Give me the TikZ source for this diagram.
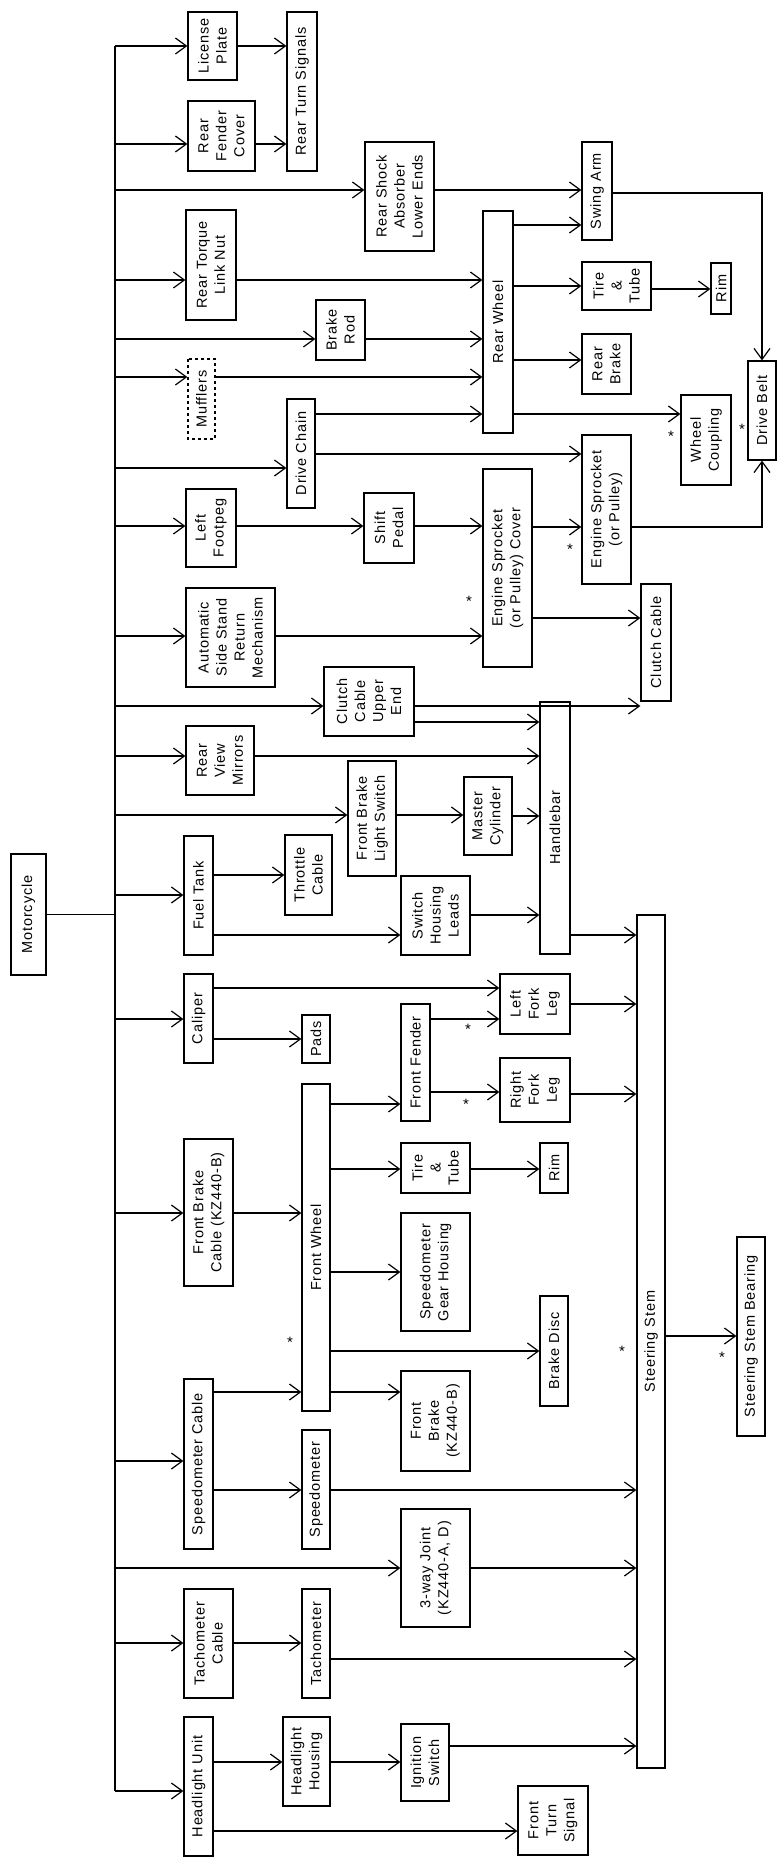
\documentclass[tikz,border=0pt]{standalone}
\usepackage{fontspec}
\setmainfont{Liberation Sans}[LetterSpace=6]
\usetikzlibrary{arrows.meta}

\begin{document}
\begin{tikzpicture}[x=1pt,y=-1pt,line width=1.2pt,
    >={Straight Barb[length=11pt,width=16pt]},
    box/.style={draw,rotate=90,inner sep=0pt,align=center,
      font=\fontsize{14.5}{18}\selectfont},
    star/.style={inner sep=0pt,font=\fontsize{15}{15}\selectfont}]
  \useasboundingbox (0,0) rectangle (776,1859);
  \coordinate (sp) at (115,0);
  \draw (115,46) coordinate (sptop) -- (115,1791) coordinate (spbot);

  % boxes, left column
  \node[box,minimum width=121pt,minimum height=35pt] (mc) at (28.5,914.5) {Motorcycle};
  \node[box,minimum width=68pt,minimum height=49pt] (lp) at (212.5,46) {License\\Plate};
  \node[box,minimum width=70pt,minimum height=67pt] (rfc) at (221.5,136) {Rear\\Fender\\Cover};
  \node[box,minimum width=110pt,minimum height=50pt] (rtl) at (211,265) {Rear Torque\\Link Nut};
  \node[box,dashed,minimum width=80pt,minimum height=27pt] (muf) at (201.5,399) {Mufflers};
  \node[box,minimum width=78pt,minimum height=50pt] (lfp) at (211,528) {Left\\Footpeg};
  \node[box,minimum width=99pt,minimum height=89pt] (ass) at (230.5,637.5) {Automatic\\Side Stand\\Return\\Mechanism};
  \node[box,minimum width=69pt,minimum height=68pt] (rvm) at (220,760.5) {Rear\\View\\Mirrors};
  \node[box,minimum width=119pt,minimum height=29pt] (ft) at (198.5,895.5) {Fuel Tank};
  \node[box,minimum width=89pt,minimum height=29pt] (cal) at (198.5,1018.5) {Caliper};
  \node[box,minimum width=147pt,minimum height=49pt] (fbc) at (208.5,1212.5) {Front Brake\\Cable (KZ440-B)};
  \node[box,minimum width=170pt,minimum height=29pt] (spc) at (198.5,1464) {Speedometer Cable};
  \node[box,minimum width=109pt,minimum height=49pt] (tcc) at (208.5,1643.5) {Tachometer\\Cable};
  \node[box,minimum width=139pt,minimum height=29pt] (hu) at (198.5,1786.5) {Headlight Unit};

  % second column
  \node[box,minimum width=159pt,minimum height=30pt] (rts) at (302,91.5) {Rear Turn Signals};
  \node[box,minimum width=109pt,minimum height=69pt] (rsa) at (399.5,196.5) {Rear Shock\\Absorber\\Lower Ends};
  \node[box,minimum width=60pt,minimum height=49pt] (br) at (340.5,330) {Brake\\Rod};
  \node[box,minimum width=109pt,minimum height=28pt] (dc) at (301,453.5) {Drive Chain};
  \node[box,minimum width=70pt,minimum height=50pt] (spd) at (389,528) {Shift\\Pedal};
  \node[box,minimum width=69pt,minimum height=90pt] (ccu) at (369,701.5) {Clutch\\Cable\\Upper\\End};
  \node[box,minimum width=115pt,minimum height=48pt] (fbls) at (372,818.5) {Front Brake\\Light Switch};
  \node[box,minimum width=80pt,minimum height=47pt] (thc) at (308.5,875) {Throttle\\Cable};
  \node[box,minimum width=48pt,minimum height=28pt] (pads) at (316,1039) {Pads};
  \node[box,minimum width=327pt,minimum height=28pt] (fw) at (316,1247.5) {Front Wheel};
  \node[box,minimum width=119pt,minimum height=28pt] (spm) at (316,1489.5) {Speedometer};
  \node[box,minimum width=109pt,minimum height=28pt] (tac) at (316,1643.5) {Tachometer};
  \node[box,minimum width=89pt,minimum height=47pt] (hh) at (306.5,1761.5) {Headlight\\Housing};

  % third column
  \node[box,minimum width=222pt,minimum height=30pt] (rw) at (498,322) {Rear Wheel};
  \node[box,minimum width=198pt,minimum height=49pt] (esc) at (507.5,568) {Engine Sprocket\\(or Pulley) Cover};
  \node[box,minimum width=78pt,minimum height=48pt] (mcy) at (488,816) {Master\\Cylinder};
  \node[box,minimum width=79pt,minimum height=69pt] (shl) at (435.5,915.5) {Switch\\Housing\\Leads};
  \node[box,minimum width=117pt,minimum height=29pt] (ff) at (415.5,1062.5) {Front Fender};
  \node[box,minimum width=50pt,minimum height=69pt] (tt) at (435.5,1168) {Tire\\\&\\Tube};
  \node[box,minimum width=118pt,minimum height=69pt] (sgh) at (435.5,1272) {Speedometer\\Gear Housing};
  \node[box,minimum width=100pt,minimum height=69pt] (fb) at (435.5,1421) {Front\\Brake\\(KZ440-B)};
  \node[box,minimum width=118pt,minimum height=69pt] (twj) at (435.5,1568) {3-way Joint\\(KZ440-A, D)};
  \node[box,minimum width=77pt,minimum height=48pt] (ig) at (425,1762.5) {Ignition\\Switch};

  % right part
  \node[box,minimum width=98pt,minimum height=30pt] (sa) at (597,191) {Swing Arm};
  \node[box,minimum width=48pt,minimum height=69pt] (rtt) at (616.5,286) {Tire\\\&\\Tube};
  \node[box,minimum width=51pt,minimum height=20pt] (rrim) at (721,288.5) {Rim};
  \node[box,minimum width=60pt,minimum height=49pt] (rb) at (606.5,364) {Rear\\Brake};
  \node[box,minimum width=149pt,minimum height=49pt] (es) at (606.5,509.5) {Engine Sprocket\\(or Pulley)};
  \node[box,minimum width=90pt,minimum height=50pt] (wc) at (706,440) {Wheel\\Coupling};
  \node[box,minimum width=99pt,minimum height=28pt] (db) at (762,410.5) {Drive Belt};
  \node[box,minimum width=117pt,minimum height=30pt] (cc) at (656,642.5) {Clutch Cable};
  \node[box,minimum width=252pt,minimum height=30pt] (hb) at (555,828) {Handlebar};
  \node[box,minimum width=60pt,minimum height=70pt] (lfl) at (535,1004) {Left\\Fork\\Leg};
  \node[box,minimum width=64pt,minimum height=70pt] (rfl) at (535,1090) {Right\\Fork\\Leg};
  \node[box,minimum width=50pt,minimum height=28pt] (rim) at (554,1168) {Rim};
  \node[box,minimum width=110pt,minimum height=28pt] (bd) at (554,1351) {Brake Disc};
  \node[box,minimum width=69pt,minimum height=70pt] (fts) at (553,1820.5) {Front\\Turn\\Signal};
  \node[box,minimum width=853pt,minimum height=28pt] (ss) at (651,1341.5) {Steering Stem};
  \node[box,minimum width=199pt,minimum height=28pt] (ssb) at (751,1336.5) {Steering Stem Bearing};

  % stars
  \node[star] (s1) at (290,1342) {*};
  \node[star] (s2) at (622,1351) {*};
  \node[star] (s3) at (722,1357) {*};
  \node[star] (s4) at (468,1029) {*};
  \node[star] (s5) at (466,1104) {*};
  \node[star] (s6) at (671,436) {*};
  \node[star] (s7) at (742,429) {*};
  \node[star] (s8) at (469,601) {*};
  \node[star] (s9) at (570,549) {*};

  % from the spine
  \draw (mc.south) -- (sp |- mc.south);
  \foreach \n/\y in {lp/46,rfc/144,rsa/190,rtl/280,br/339,muf/377,dc/468,lfp/526,
      ass/636,ccu/706,rvm/756,fbls/815,ft/895,cal/1019,fbc/1213,spc/1461,
      twj/1568,tcc/1643,hu/1791}
    \draw[->] (sp |- 0,\y) -- (\n.north |- 0,\y);

  % box to box
  \foreach \a/\b/\y in {lp/rts/46,rfc/rts/144,rsa/sa/190,rtl/rw/280,br/rw/339,
      muf/rw/377,dc/rw/414,dc/es/454,rw/sa/225,rw/rtt/286,rtt/rrim/289,rw/rb/360,
      rw/wc/414,lfp/spd/526,spd/esc/526,ass/esc/636,esc/es/527,esc/cc/618,
      ccu/cc/706,ccu/hb/722,rvm/hb/756,fbls/mcy/815,mcy/hb/816,ft/thc/875,
      ft/shl/935,shl/hb/915,hb/ss/935,cal/lfl/988,cal/pads/1039,ff/lfl/1019,
      ff/rfl/1092,lfl/ss/1004,rfl/ss/1094,fbc/fw/1213,fw/ff/1104,fw/tt/1169,
      tt/rim/1169,fw/sgh/1272,fw/bd/1351,fw/fb/1392,spc/fw/1392,spc/spm/1490,
      spm/ss/1490,twj/ss/1568,tcc/tac/1643,tac/ss/1659,ig/ss/1746,hu/hh/1762,
      hh/ig/1762,hu/fts/1831,ss/ssb/1336}
    \draw[->] (\a.south |- 0,\y) -- (\b.north |- 0,\y);

  \draw[->] (sa.south |- 0,193) -| (db.east);
  \draw[->] (es.south |- 0,527) -| (db.west);
\end{tikzpicture}
\end{document}
